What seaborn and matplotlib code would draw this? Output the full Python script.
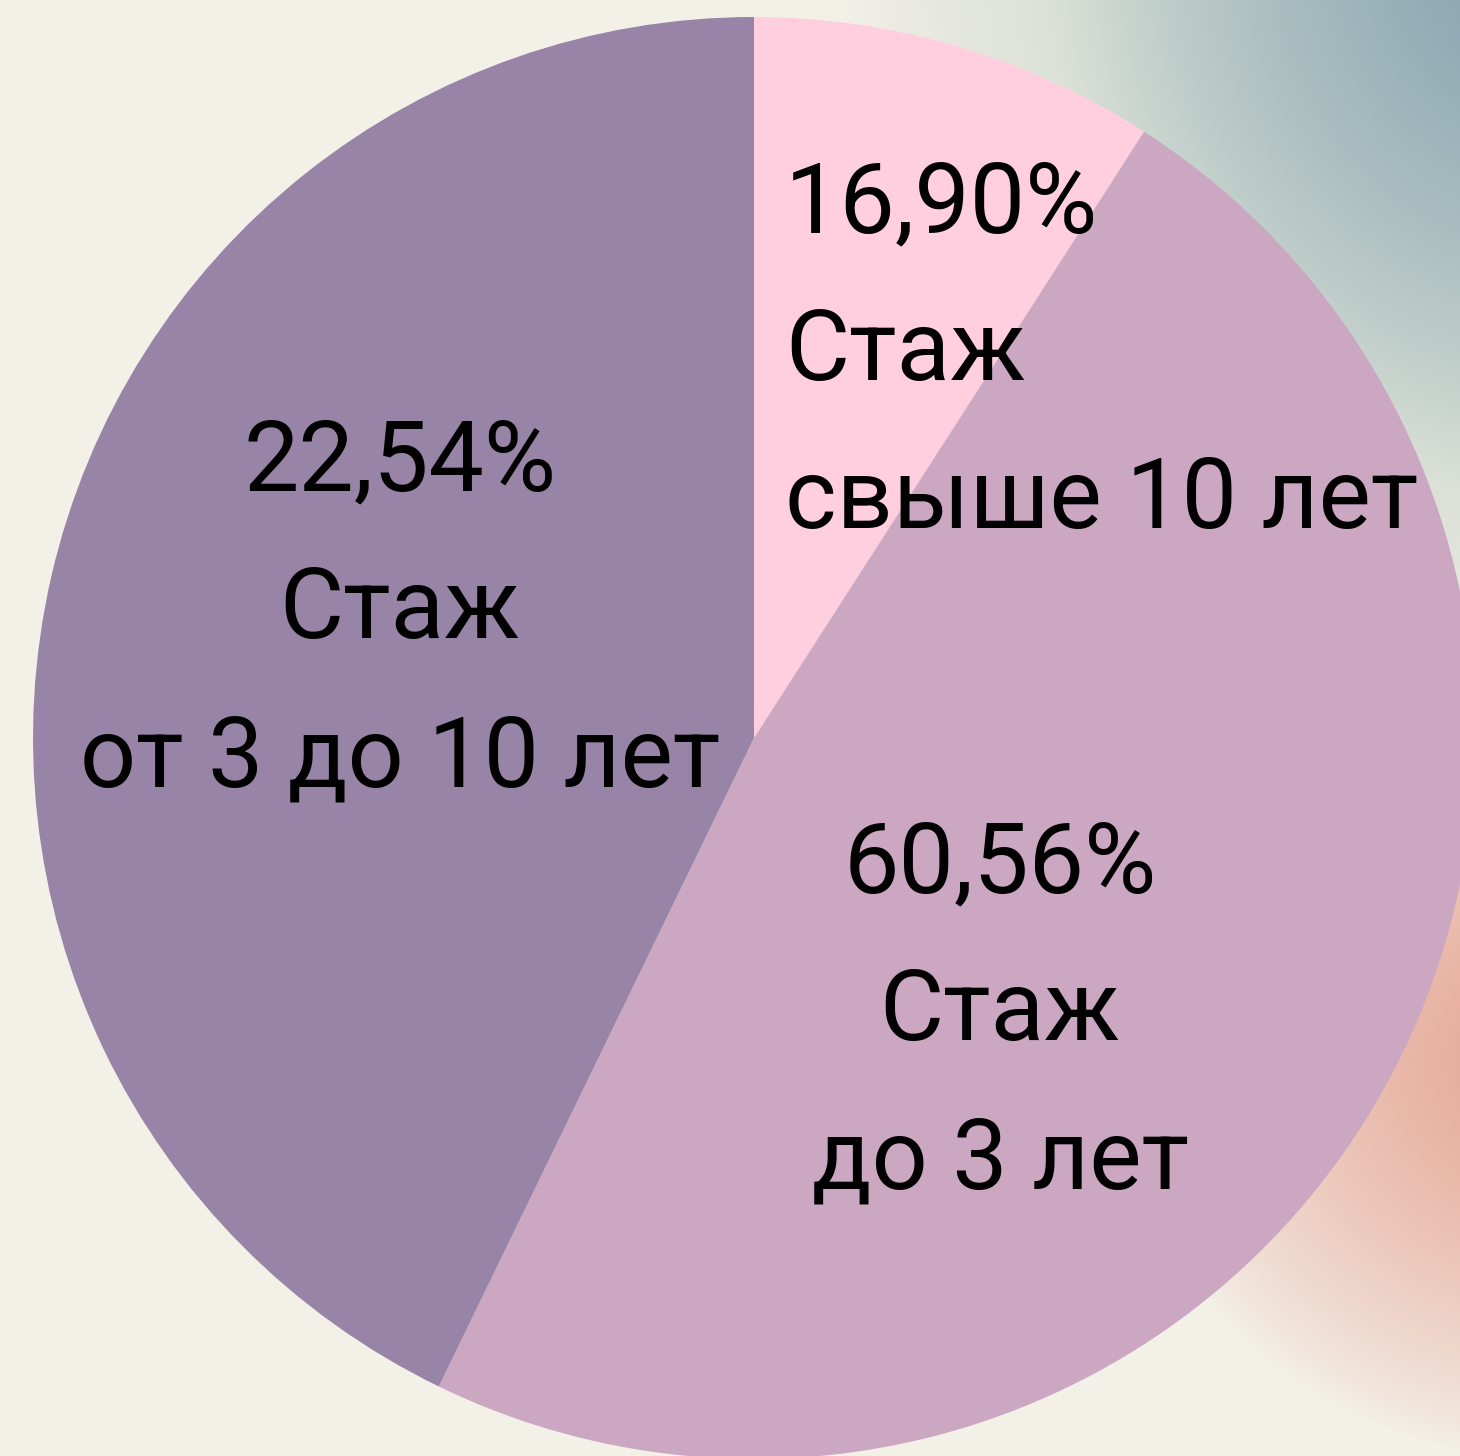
import numpy as np
import seaborn as sns
import matplotlib.pyplot as plt

# slice sizes as drawn (clockwise from top)
groups = ["свыше 10 лет", "до 3 лет", "от 3 до 10 лет"]
shares = [9.1, 48.1, 42.8]
pct_labels = ["16,90%", "60,56%", "22,54%"]
colors = ["#FFCFE0", "#CBA7C2", "#9884A6"]

sns.set_theme(style="white")
plt.rcParams['font.family'] = ['Roboto', 'DejaVu Sans']

W, H = 1460, 1456
fig = plt.figure(figsize=(W / 100, H / 100), dpi=100)

# soft background: cream with teal glow top-right and peach glow bottom-right
yy, xx = np.mgrid[0:H, 0:W]
bg = np.ones((H, W, 3)) * np.array([243, 240, 232]) / 255
sage = np.array([180, 200, 188]) / 255
teal = np.array([130, 160, 178]) / 255
peach = np.array([229, 160, 142]) / 255
d0 = np.hypot((xx - 1560) / 720, (yy + 80) / 820)
w0 = np.clip(1 - d0, 0, 1) ** 0.8
bg = bg * (1 - w0[..., None]) + sage * w0[..., None]
d1 = np.hypot((xx - 1560) / 520, (yy + 60) / 560)
w1 = np.clip(1 - d1, 0, 1) ** 1.0
bg = bg * (1 - w1[..., None]) + teal * w1[..., None]
d2 = np.hypot((xx - 1560) / 440, (yy - 1060) / 400)
w2 = np.clip(1 - d2, 0, 1) ** 0.8
bg = bg * (1 - w2[..., None]) + peach * w2[..., None]

bax = fig.add_axes([0, 0, 1, 1])
bax.imshow(np.clip(bg, 0, 1), extent=(0, W, H, 0), aspect="auto")
bax.axis("off")

ax = fig.add_axes([0, 0, 1, 1])
ax.patch.set_alpha(0)
cx, cy, r = 754, H - 738, 721
ax.pie(shares, colors=colors, startangle=90, counterclock=False,
       center=(cx, cy), radius=r, wedgeprops=dict(linewidth=0))
ax.set_xlim(0, W)
ax.set_ylim(0, H)
ax.set_aspect("auto")
ax.axis("off")

# label placement: (x, first baseline, horizontal alignment)
layout = [(785, 232, "left"), (1000, 892, "center"), (400, 490, "center")]
fs = 71
step = 148
for pct, grp, (x, y0, ha) in zip(pct_labels, groups, layout):
    for i, line in enumerate([pct, "Стаж", grp]):
        ax.text(x, H - (y0 + i * step), line, ha=ha, va="baseline",
                fontsize=fs, fontweight="normal", color="black")

fig.savefig("out.png", dpi=100)
